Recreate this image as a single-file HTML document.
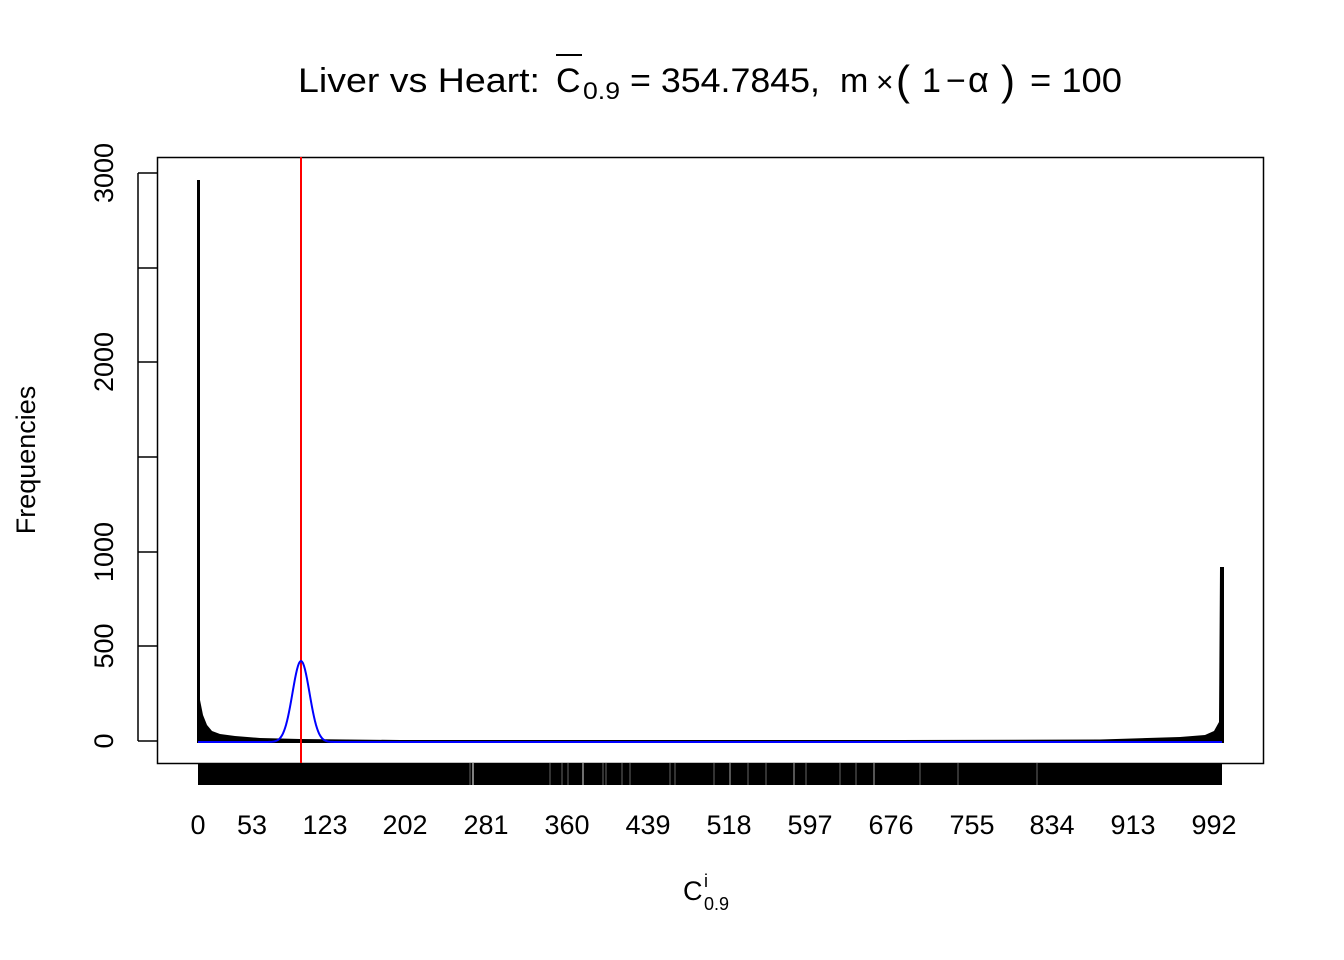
<!DOCTYPE html>
<html><head><meta charset="utf-8"><style>body{margin:0;background:#fff}svg{display:block}</style></head>
<body>
<svg width="1344" height="960" viewBox="0 0 1344 960" xmlns="http://www.w3.org/2000/svg" font-family="Liberation Sans, Arial, sans-serif">
<rect width="1344" height="960" fill="#fff"/>
<!-- title -->
<g font-size="34" fill="#000">
<text x="298" y="92" textLength="242" lengthAdjust="spacingAndGlyphs">Liver vs Heart:</text>
<text x="556" y="92">C</text>
<text x="583" y="99" font-size="24" textLength="37" lengthAdjust="spacingAndGlyphs">0.9</text>
<text x="630" y="92" textLength="190" lengthAdjust="spacingAndGlyphs">= 354.7845,</text>
<text x="840" y="92">m</text>
<text x="876" y="92" font-size="30">×</text>
<text x="896" y="95" font-size="42">(</text>
<text x="922" y="92">1</text>
<text x="946" y="92">−</text>
<text x="968" y="92" font-size="36">α</text>
<text x="1001" y="95" font-size="42">)</text>
<text x="1030" y="92" textLength="92" lengthAdjust="spacingAndGlyphs">= 100</text>
</g>
<line x1="556" y1="55" x2="582" y2="55" stroke="#000" stroke-width="2"/>
<!-- box -->
<rect x="157.5" y="157.5" width="1106" height="606" fill="none" stroke="#000" stroke-width="1.5"/>
<!-- y axis -->
<g stroke="#000" stroke-width="1.5">
<line x1="138" y1="173" x2="138" y2="741"/>
<line x1="138" y1="741" x2="157" y2="741"/>
<line x1="138" y1="646" x2="157" y2="646"/>
<line x1="138" y1="552" x2="157" y2="552"/>
<line x1="138" y1="457" x2="157" y2="457"/>
<line x1="138" y1="362" x2="157" y2="362"/>
<line x1="138" y1="268" x2="157" y2="268"/>
<line x1="138" y1="173" x2="157" y2="173"/>
</g>
<g font-size="27" text-anchor="middle">
<text transform="translate(113,741) rotate(-90)">0</text>
<text transform="translate(113,646) rotate(-90)">500</text>
<text transform="translate(113,552) rotate(-90)">1000</text>
<text transform="translate(113,362) rotate(-90)">2000</text>
<text transform="translate(113,173) rotate(-90)">3000</text>
<text transform="translate(35,460) rotate(-90)">Frequencies</text>
</g>
<!-- x tick band -->
<rect x="198" y="763" width="1024" height="22" fill="#000"/>
<g stroke="#666" stroke-width="1">
<line x1="470" y1="763" x2="470" y2="785"/><line x1="473" y1="763" x2="473" y2="785" stroke="#fff"/>
<line x1="550" y1="763" x2="550" y2="785"/><line x1="562" y1="763" x2="562" y2="785"/>
<line x1="568" y1="763" x2="568" y2="785"/><line x1="583" y1="763" x2="583" y2="785" stroke="#ddd"/>
<line x1="603" y1="763" x2="603" y2="785"/><line x1="606" y1="763" x2="606" y2="785"/>
<line x1="622" y1="763" x2="622" y2="785"/><line x1="630" y1="763" x2="630" y2="785"/>
<line x1="670" y1="763" x2="670" y2="785"/><line x1="675" y1="763" x2="675" y2="785"/>
<line x1="714" y1="763" x2="714" y2="785"/><line x1="730" y1="763" x2="730" y2="785" stroke="#aaa"/>
<line x1="748" y1="763" x2="748" y2="785"/><line x1="766" y1="763" x2="766" y2="785"/>
<line x1="794" y1="763" x2="794" y2="785" stroke="#aaa"/><line x1="806" y1="763" x2="806" y2="785"/>
<line x1="840" y1="763" x2="840" y2="785"/><line x1="856" y1="763" x2="856" y2="785"/>
<line x1="874" y1="763" x2="874" y2="785" stroke="#aaa"/><line x1="920" y1="763" x2="920" y2="785"/>
<line x1="958" y1="763" x2="958" y2="785"/><line x1="1037" y1="763" x2="1037" y2="785"/>
</g>
<g font-size="27" text-anchor="middle">
<text x="198" y="834">0</text><text x="252" y="834">53</text><text x="325" y="834">123</text>
<text x="405" y="834">202</text><text x="486" y="834">281</text><text x="567" y="834">360</text>
<text x="648" y="834">439</text><text x="729" y="834">518</text><text x="810" y="834">597</text>
<text x="891" y="834">676</text><text x="972" y="834">755</text><text x="1052" y="834">834</text>
<text x="1133" y="834">913</text><text x="1214" y="834">992</text>
</g>
<text x="683" y="900" font-size="27">C</text>
<text x="704" y="887" font-size="18">i</text>
<text x="704" y="910" font-size="18">0.9</text>
<!-- histogram -->
<path d="M197,742 L197,180 L200,180 L200,700 L203,715 L207,725 L212,731 L220,734 L235,736 L260,738 L300,739 L400,740 L600,740 L900,740 L1100,739.5 L1180,737 L1205,735 L1214,731 L1219,722 L1220,567 L1224,567 L1224,743 L197,743 Z" fill="#000"/>
<line x1="198.5" y1="180" x2="198.5" y2="742" stroke="#000" stroke-width="3"/>
<line x1="1221.5" y1="567" x2="1221.5" y2="742" stroke="#000" stroke-width="3"/>
<line x1="198" y1="741.5" x2="1222" y2="741.5" stroke="#000" stroke-width="3"/>
<!-- red line -->
<line x1="301" y1="157" x2="301" y2="763" stroke="#f00" stroke-width="2"/>
<!-- blue normal -->
<path id="bl" fill="none" stroke="#00f" stroke-width="2" d=""/>
<script>
(function(){var d="M198,742";for(var x=198;x<=1222;x+=1){var z=(x-301)/8.5;var y=742-81*Math.exp(-z*z/2);d+=" L"+x+","+y.toFixed(2);}document.getElementById("bl").setAttribute("d",d);})();
</script>
</svg>
</body></html>
